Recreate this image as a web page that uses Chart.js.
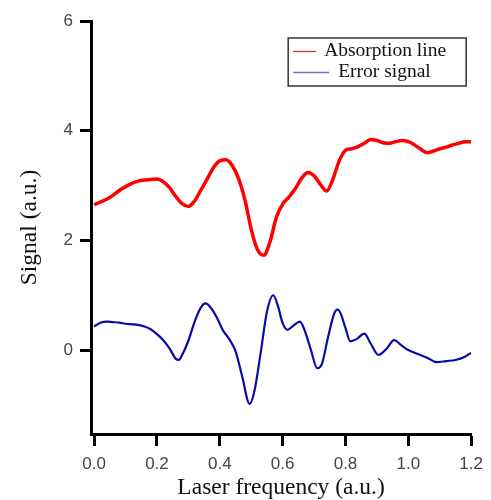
<!DOCTYPE html>
<html>
<head>
<meta charset="utf-8">
<script src="https://cdn.jsdelivr.net/npm/chart.js@4.4.1/dist/chart.umd.min.js"></script>
<style>
html,body{margin:0;padding:0;background:#fff;}
canvas{display:block;}
</style>
</head>
<body>
<canvas id="c" width="491" height="500"></canvas>
<script>
// Absorption line (red)
const absX = [0.00,0.02,0.04,0.06,0.08,0.10,0.12,0.14,0.16,0.18,0.20,0.22,0.24,0.26,0.28,0.30,0.32,0.34,0.36,0.38,0.40,0.42,0.44,0.46,0.48,0.50,0.52,0.54,0.56,0.58,0.60,0.62,0.64,0.66,0.68,0.70,0.72,0.74,0.76,0.78,0.80,0.82,0.84,0.86,0.88,0.90,0.92,0.94,0.96,0.98,1.00,1.02,1.04,1.06,1.08,1.10,1.12,1.14,1.16,1.18,1.20];
const absY = [2.65,2.70,2.75,2.82,2.91,2.98,3.04,3.08,3.10,3.11,3.12,3.07,2.96,2.80,2.67,2.62,2.72,2.92,3.12,3.33,3.45,3.47,3.36,3.12,2.74,2.20,1.83,1.73,1.98,2.42,2.66,2.79,2.94,3.13,3.24,3.18,3.02,2.90,3.12,3.45,3.64,3.67,3.71,3.77,3.84,3.82,3.78,3.77,3.80,3.82,3.80,3.74,3.66,3.60,3.63,3.67,3.70,3.74,3.77,3.80,3.80];

// Error signal (blue)
const errX = [0.00,0.02,0.04,0.06,0.08,0.10,0.12,0.14,0.16,0.18,0.20,0.22,0.24,0.26,0.27,0.28,0.30,0.32,0.34,0.355,0.37,0.39,0.41,0.43,0.45,0.47,0.495,0.51,0.53,0.55,0.57,0.585,0.60,0.615,0.635,0.655,0.67,0.69,0.71,0.725,0.745,0.765,0.775,0.785,0.80,0.815,0.835,0.86,0.88,0.905,0.93,0.955,0.975,1.00,1.03,1.06,1.09,1.12,1.15,1.18,1.20];
const errY = [0.43,0.50,0.52,0.51,0.50,0.48,0.47,0.46,0.43,0.38,0.29,0.18,0.03,-0.16,-0.18,-0.09,0.17,0.52,0.78,0.85,0.78,0.60,0.36,0.20,-0.02,-0.45,-0.98,-0.75,-0.05,0.70,1.00,0.80,0.49,0.37,0.45,0.52,0.36,0.00,-0.33,-0.25,0.25,0.68,0.74,0.66,0.40,0.16,0.20,0.30,0.12,-0.09,0.02,0.18,0.10,0.00,-0.07,-0.14,-0.22,-0.20,-0.18,-0.12,-0.05];

const xTicks = [0.0,0.2,0.4,0.6,0.8,1.0,1.2];
const yTicks = [0,2,4,6];
const seriesLabels = ['Absorption line','Error signal'];
const xTitle = 'Laser frequency (a.u.)';
const yTitle = 'Signal (a.u.)';

const toPts = (xs, ys) => xs.map((x,i) => ({x, y: ys[i]}));

const legendBox = {
  id: 'legendBox',
  afterDraw(chart) {
    const ctx = chart.ctx;
    const ca = chart.chartArea;
    const bx = ca.right - 183, by = 38, bw = 178, bh = 48;
    ctx.save();
    ctx.fillStyle = '#fff';
    ctx.fillRect(bx, by, bw, bh);
    ctx.strokeStyle = '#333';
    ctx.lineWidth = 1.5;
    ctx.strokeRect(bx, by, bw, bh);
    ctx.lineWidth = 1.3;
    ctx.strokeStyle = '#cc3030';
    ctx.beginPath(); ctx.moveTo(bx + 5, by + 13.5); ctx.lineTo(bx + 28, by + 13.5); ctx.stroke();
    ctx.strokeStyle = '#7272b8';
    ctx.lineWidth = 1.6;
    ctx.beginPath(); ctx.moveTo(bx + 5, by + 34.5); ctx.lineTo(bx + 41, by + 34.5); ctx.stroke();
    ctx.fillStyle = '#111';
    ctx.font = '19.5px "Liberation Serif", "Times New Roman", serif';
    ctx.textBaseline = 'middle';
    ctx.textAlign = 'left';
    ctx.fillText(chart.data.datasets[0].label, bx + 36, by + 13);
    ctx.fillText(chart.data.datasets[1].label, bx + 50, by + 34);
    ctx.restore();
  }
};

new Chart(document.getElementById('c'), {
  type: 'line',
  data: {
    datasets: [
      { label: seriesLabels[0], data: toPts(absX, absY), borderColor: '#ff0000', borderWidth: 3.5,
        pointRadius: 0, cubicInterpolationMode: 'monotone', fill: false },
      { label: seriesLabels[1], data: toPts(errX, errY), borderColor: '#0a0aa8', borderWidth: 2.2,
        pointRadius: 0, cubicInterpolationMode: 'monotone', fill: false }
    ]
  },
  options: {
    responsive: false,
    animation: false,
    devicePixelRatio: 1,
    layout: { padding: { top: 21, right: 18, left: 0, bottom: 0 } },
    plugins: { legend: { display: false }, tooltip: { enabled: false } },
    scales: {
      x: {
        type: 'linear', min: -0.01, max: 1.2,
        afterBuildTicks: s => { s.ticks = xTicks.map(v => ({ value: v })); },
        afterFit: s => { s.height = 66; },
        border: { display: true, color: '#000', width: 3 },
        grid: { drawOnChartArea: false, drawTicks: true, tickLength: 12, tickWidth: 3, tickColor: '#000' },
        ticks: { color: '#444', padding: 8, font: { family: '"Liberation Sans", Arial, sans-serif', size: 17 },
                 callback: v => Number(v).toFixed(1), maxRotation: 0 },
        title: { display: true, text: xTitle, color: '#111', padding: { top: 0, bottom: 0 },
                 font: { family: '"Liberation Serif", "Times New Roman", serif', size: 23.5, lineHeight: 1.05 } }
      },
      y: {
        type: 'linear', min: -1.53, max: 6,
        afterBuildTicks: s => { s.ticks = yTicks.map(v => ({ value: v })); },
        afterFit: s => { s.width = 91; },
        border: { display: true, color: '#000', width: 3 },
        grid: { drawOnChartArea: false, drawTicks: true, tickLength: 11, tickWidth: 3, tickColor: '#000' },
        ticks: { color: '#444', padding: 7, font: { family: '"Liberation Sans", Arial, sans-serif', size: 17 },
                 callback: v => String(v) },
        title: { display: true, text: yTitle, color: '#111', padding: { top: 17, bottom: 0 },
                 font: { family: '"Liberation Serif", "Times New Roman", serif', size: 23.5, lineHeight: 1.1 } }
      }
    }
  },
  plugins: [legendBox]
});
</script>
</body>
</html>
